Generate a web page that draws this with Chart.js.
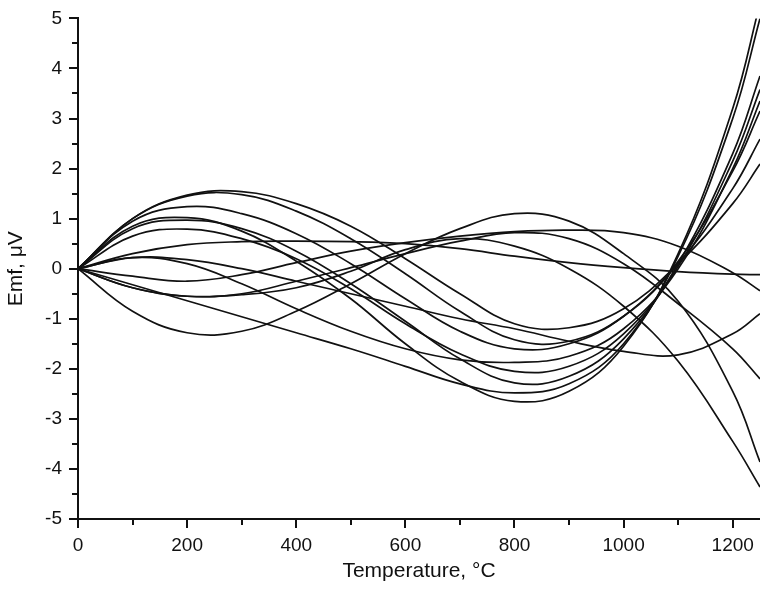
<!DOCTYPE html>
<html>
<head>
<meta charset="utf-8">
<script src="https://cdn.jsdelivr.net/npm/chart.js@4"></script>
<style>
  body { margin: 0; background: #fff; }
</style>
</head>
<body>
<canvas id="chart" width="760" height="589"></canvas>
<script>
// temperature nodes, °C
const temps = [0, 100, 200, 300, 400, 500, 600, 700, 800, 900, 1000, 1100, 1200, 1250];

// curves that end high (rise steeply past 1050 °C)
const peak155 = [0, 1.0, 1.47, 1.54, 1.3, 0.85, 0.2, -0.5, -1.1, -1.18, -0.8, 0.1, 1.3, 2.09];
const peak150 = [0, 1.0, 1.45, 1.48, 1.15, 0.6, -0.1, -0.85, -1.42, -1.45, -0.95, 0.1, 1.6, 2.59];
const peak125 = [0, 0.95, 1.24, 1.1, 0.7, 0.1, -0.6, -1.25, -1.6, -1.5, -0.95, 0.15, 1.95, 3.15];
const peak103 = [0, 0.85, 1.02, 0.75, 0.15, -0.6, -1.5, -2.25, -2.65, -2.45, -1.55, 0.3, 3.2, 5.3];
const peak098 = [0, 0.8, 0.97, 0.8, 0.35, -0.3, -1.05, -1.8, -2.28, -2.15, -1.4, 0.1, 2.3, 3.85];
const peak080 = [0, 0.65, 0.79, 0.6, 0.2, -0.4, -1.1, -1.7, -2.05, -1.95, -1.3, 0.05, 2.15, 3.58];
const hump025 = [0, 0.22, 0.1, -0.3, -0.8, -1.25, -1.6, -1.82, -1.87, -1.75, -1.2, 0.0, 2.0, 3.35];
const straightDown = [0, -0.32, -0.64, -0.96, -1.28, -1.6, -1.95, -2.3, -2.48, -2.3, -1.5, 0.25, 3.0, 5.0];

// curves that end low
const dip130 = [0, -0.85, -1.28, -1.25, -0.85, -0.3, 0.3, 0.8, 1.1, 0.95, 0.3, -0.65, -2.45, -3.86];
const dip055a = [0, -0.38, -0.55, -0.5, -0.25, 0.02, 0.3, 0.55, 0.72, 0.6, 0.1, -0.7, -1.6, -2.2];
const dip055b = [0, -0.38, -0.55, -0.52, -0.38, -0.05, 0.38, 0.6, 0.45, 0.0, -0.75, -1.85, -3.45, -4.36];
const dip025 = [0, -0.15, -0.25, -0.12, 0.12, 0.35, 0.52, 0.65, 0.74, 0.77, 0.72, 0.45, -0.08, -0.44];

// the slow ones
const lateMin = [0, 0.22, 0.18, 0.0, -0.25, -0.5, -0.75, -1.0, -1.2, -1.45, -1.65, -1.72, -1.3, -0.9];
const flat = [0, 0.3, 0.48, 0.54, 0.55, 0.54, 0.5, 0.4, 0.25, 0.12, 0.02, -0.06, -0.11, -0.12];

const allCurves = [peak155, peak150, peak125, peak103, peak098, peak080, hump025, straightDown,
                   dip130, dip055a, dip055b, dip025, lateMin, flat];

const xTicks = [0, 200, 400, 600, 800, 1000, 1200];
const yTicks = [-5, -4, -3, -2, -1, 0, 1, 2, 3, 4, 5];
const xMinor = [100, 300, 500, 700, 900, 1100];
const yMinor = [-4.5, -3.5, -2.5, -1.5, -0.5, 0.5, 1.5, 2.5, 3.5, 4.5];

const ink = "#111";
const tickFont = { family: "'Liberation Sans', Arial, sans-serif", size: 19 };
const titleFont = { family: "'Liberation Sans', Arial, sans-serif", size: 21 };

// chart.js has no minor ticks, draw them on the scales
const minorTicks = {
  id: "minorTicks",
  afterDraw(chart) {
    const ctx = chart.ctx;
    const x = chart.scales.x, y = chart.scales.y;
    ctx.save();
    ctx.strokeStyle = ink;
    ctx.lineWidth = 2;
    ctx.beginPath();
    xMinor.forEach(v => {
      const px = Math.round(x.getPixelForValue(v));
      ctx.moveTo(px, x.top);
      ctx.lineTo(px, x.top + 6);
    });
    yMinor.forEach(v => {
      const py = Math.round(y.getPixelForValue(v));
      ctx.moveTo(y.right, py);
      ctx.lineTo(y.right - 6, py);
    });
    ctx.stroke();
    ctx.restore();
  }
};

new Chart(document.getElementById("chart").getContext("2d"), {
  type: "line",
  data: {
    datasets: allCurves.map((c, i) => ({
      label: "curve " + (i + 1),
      data: temps.map((t, j) => ({ x: t, y: c[j] })),
      borderColor: ink,
      borderWidth: 1.7,
      pointRadius: 0,
      tension: 0.4,
      fill: false
    }))
  },
  options: {
    responsive: false,
    animation: false,
    devicePixelRatio: 1,
    layout: { padding: { top: 17, right: 0, left: 0, bottom: 0 } },
    elements: { line: { capBezierPoints: false } },
    plugins: { legend: { display: false }, tooltip: { enabled: false } },
    scales: {
      x: {
        type: "linear",
        min: 0,
        max: 1250,
        afterBuildTicks: s => { s.ticks = xTicks.map(v => ({ value: v })); },
        afterFit: s => { s.height = 70; },
        ticks: { color: ink, font: tickFont, padding: 6, maxRotation: 0, autoSkip: false,
                 callback: v => String(v) },
        grid: { drawOnChartArea: false, drawTicks: true, tickLength: 9, color: ink, lineWidth: 2 },
        border: { display: true, color: ink, width: 2 },
        title: { display: true, text: "Temperature, °C", color: ink, font: titleFont,
                 padding: { top: 0, bottom: 5 } }
      },
      y: {
        min: -5,
        max: 5,
        afterBuildTicks: s => { s.ticks = yTicks.map(v => ({ value: v })); },
        afterFit: s => { s.width = 78; },
        ticks: { color: ink, font: tickFont, padding: 7, autoSkip: false, callback: v => String(v) },
        grid: { drawOnChartArea: false, drawTicks: true, tickLength: 9, color: ink, lineWidth: 2 },
        border: { display: true, color: ink, width: 2 },
        title: { display: true, text: "Emf, μV", color: ink, font: titleFont, padding: 4 }
      }
    }
  },
  plugins: [minorTicks]
});
</script>
</body>
</html>
